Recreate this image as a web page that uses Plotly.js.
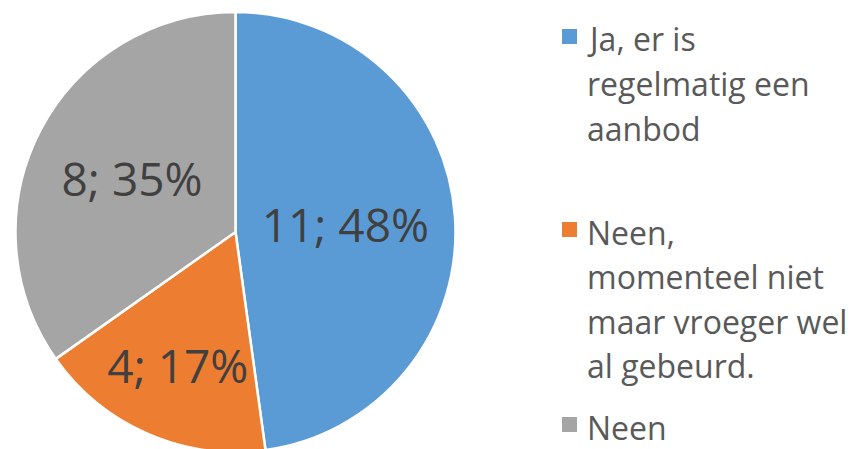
<!DOCTYPE html>
<html>
<head>
<meta charset="utf-8">
<script src="https://cdn.plot.ly/plotly-3.0.1.min.js"></script>
<style>
html,body{margin:0;padding:0;overflow:hidden;background:#fff;}
#chart{width:864px;height:452px;}
</style>
</head>
<body>
<div id="chart"></div>
<script>
// Data
const categories = ["Ja, er is<br>regelmatig een<br>aanbod", "Neen,<br>momenteel niet<br>maar vroeger wel<br>al gebeurd.", "Neen"];
const counts = [11, 4, 8];
const colors = ["#5B9BD5", "#ED7D31", "#A5A5A5"];

const W = 864, H = 452;
// legend first-line baselines (px) and line pitch
const legendBaselines = [50, 243, 438];
const linePitch = 44.5;
const px = v => 1 - v / H;

const trace = {
  type: "pie",
  labels: categories,
  values: counts,
  sort: false,
  direction: "clockwise",
  rotation: 0,
  marker: {colors: colors, line: {color: "#ffffff", width: 2.5}},
  texttemplate: "%{value}; %{percent:.0%}",
  textposition: "inside",
  insidetextorientation: "horizontal",
  textfont: {family: "Open Sans", size: 46, color: "#404040"},
  hoverinfo: "none",
  showlegend: false,
  domain: {x: [15.5 / W, 455.5 / W], y: [0, 440 / H]}
};

const annotations = [];
const shapes = [];
categories.forEach((c, i) => {
  c.split("<br>").forEach((line, j) => {
    annotations.push({
      xref: "paper", yref: "paper",
      x: 585 / W, y: px(legendBaselines[i] + j * linePitch - 11),
      xanchor: "left", yanchor: "middle", align: "left",
      showarrow: false,
      text: line,
      font: {family: "Open Sans", size: 32, color: "#595959"}
    });
  });
  shapes.push({
    type: "rect", xref: "paper", yref: "paper",
    x0: 562 / W, x1: 577 / W,
    y0: px(legendBaselines[i] - 6), y1: px(legendBaselines[i] - 21),
    fillcolor: colors[i], line: {width: 0}
  });
});

Plotly.newPlot("chart", [trace], {
  width: W, height: H,
  margin: {l: 0, r: 0, t: 0, b: 0},
  paper_bgcolor: "#ffffff",
  uniformtext: {mode: "show", minsize: 46},
  annotations: annotations,
  shapes: shapes
}, {displayModeBar: false, staticPlot: true});
</script>
</body>
</html>
